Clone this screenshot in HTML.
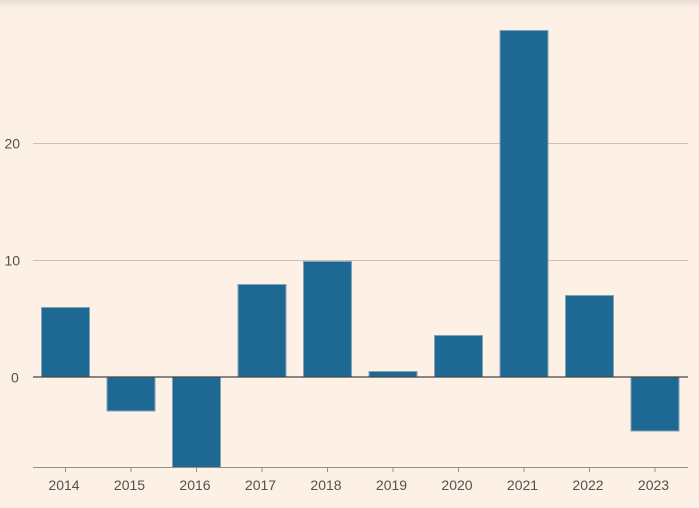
<!DOCTYPE html>
<html>
<head>
<meta charset="utf-8">
<style>
  html, body { margin: 0; padding: 0; }
  body { width: 699px; height: 508px; background: #fdf0e5; overflow: hidden; }
  svg { display: block; }
  text { font-family: "Liberation Sans", sans-serif; font-size: 14px; fill: #57504d; }
</style>
</head>
<body>
<svg width="699" height="508" viewBox="0 0 699 508" xmlns="http://www.w3.org/2000/svg">
  <defs>
    <linearGradient id="sh" x1="0" y1="0" x2="0" y2="1">
      <stop offset="0" stop-color="#e6dbd3"/>
      <stop offset="1" stop-color="#fdf0e5" stop-opacity="0"/>
    </linearGradient>
    <clipPath id="plot"><rect x="0" y="0" width="699" height="467"/></clipPath>
  </defs>
  <rect x="0" y="0" width="699" height="508" fill="#fdf0e5"/>
  <rect x="0" y="0" width="699" height="12" fill="url(#sh)"/>

  <!-- gridlines -->
  <line x1="33" y1="143.5" x2="688" y2="143.5" stroke="#cdbfb5" stroke-width="1"/>
  <line x1="33" y1="260.5" x2="688" y2="260.5" stroke="#cdbfb5" stroke-width="1"/>

  <!-- y labels -->
  <text x="4.5" y="148.5">20</text>
  <text x="4.5" y="265.5">10</text>
  <text x="11" y="382.5">0</text>

  <!-- bars -->
  <g clip-path="url(#plot)" fill="#1a6692" fill-opacity="0.98" stroke="#86a2b6" stroke-width="1">
    <rect x="41.5" y="307.5" width="48" height="69.5"/>
    <rect x="107" y="377" width="48" height="34"/>
    <rect x="172.5" y="377" width="48" height="95"/>
    <rect x="238" y="284.5" width="48" height="92.5"/>
    <rect x="303.5" y="261.5" width="48" height="115.5"/>
    <rect x="369" y="371.5" width="48" height="5.5"/>
    <rect x="434.5" y="335.5" width="48" height="41.5"/>
    <rect x="500" y="30.5" width="48" height="346.5"/>
    <rect x="565.5" y="295.5" width="48" height="81.5"/>
    <rect x="631" y="377" width="48" height="54"/>
  </g>

  <!-- zero line -->
  <line x1="33" y1="377" x2="688" y2="377" stroke="#4a4442" stroke-width="1.3"/>

  <!-- x axis -->
  <line x1="33" y1="467.5" x2="688" y2="467.5" stroke="#9a8f88" stroke-width="1"/>
  <g stroke="#9a8f88" stroke-width="1">
    <line x1="65.5" y1="467" x2="65.5" y2="472"/>
    <line x1="131" y1="467" x2="131" y2="472"/>
    <line x1="196.5" y1="467" x2="196.5" y2="472"/>
    <line x1="262" y1="467" x2="262" y2="472"/>
    <line x1="327.5" y1="467" x2="327.5" y2="472"/>
    <line x1="393" y1="467" x2="393" y2="472"/>
    <line x1="458.5" y1="467" x2="458.5" y2="472"/>
    <line x1="524" y1="467" x2="524" y2="472"/>
    <line x1="589.5" y1="467" x2="589.5" y2="472"/>
    <line x1="655" y1="467" x2="655" y2="472"/>
  </g>
  <g text-anchor="middle">
    <text x="64" y="490">2014</text>
    <text x="129.5" y="490">2015</text>
    <text x="195" y="490">2016</text>
    <text x="260.5" y="490">2017</text>
    <text x="326" y="490">2018</text>
    <text x="391.5" y="490">2019</text>
    <text x="457" y="490">2020</text>
    <text x="522.5" y="490">2021</text>
    <text x="588" y="490">2022</text>
    <text x="653.5" y="490">2023</text>
  </g>
</svg>
</body>
</html>
